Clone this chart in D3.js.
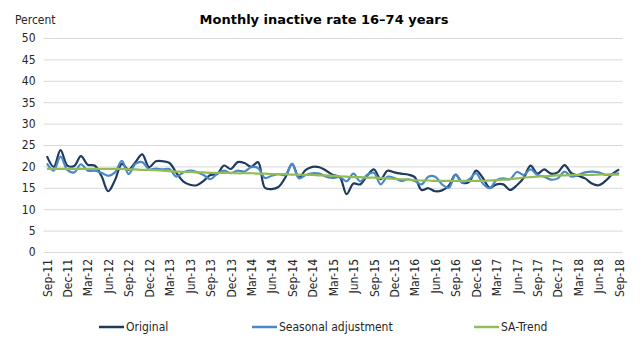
<!DOCTYPE html>
<html>
<head>
<meta charset="utf-8">
<script src="https://cdn.jsdelivr.net/npm/d3@7"></script>
<style>
  html, body { margin: 0; padding: 0; background: #fff; }
  svg text { font-family: "DejaVu Sans Condensed", "Liberation Sans Narrow", sans-serif; fill: #262626; }
</style>
</head>
<body>
<div id="container"></div>
<script>
// months Sep-11 .. Sep-18
const months = [
  'Sep-11','Oct-11','Nov-11','Dec-11',
  'Jan-12','Feb-12','Mar-12','Apr-12','May-12','Jun-12','Jul-12','Aug-12','Sep-12','Oct-12','Nov-12','Dec-12',
  'Jan-13','Feb-13','Mar-13','Apr-13','May-13','Jun-13','Jul-13','Aug-13','Sep-13','Oct-13','Nov-13','Dec-13',
  'Jan-14','Feb-14','Mar-14','Apr-14','May-14','Jun-14','Jul-14','Aug-14','Sep-14','Oct-14','Nov-14','Dec-14',
  'Jan-15','Feb-15','Mar-15','Apr-15','May-15','Jun-15','Jul-15','Aug-15','Sep-15','Oct-15','Nov-15','Dec-15',
  'Jan-16','Feb-16','Mar-16','Apr-16','May-16','Jun-16','Jul-16','Aug-16','Sep-16','Oct-16','Nov-16','Dec-16',
  'Jan-17','Feb-17','Mar-17','Apr-17','May-17','Jun-17','Jul-17','Aug-17','Sep-17','Oct-17','Nov-17','Dec-17',
  'Jan-18','Feb-18','Mar-18','Apr-18','May-18','Jun-18','Jul-18','Aug-18','Sep-18'
]

const original = [
  22.4, 19.9, 23.8, 20.2,
  20.1, 22.4, 20.4, 20.2, 17.8, 14.2, 16.8, 20.6, 19.2, 21.0, 22.8, 19.8,
  21.2, 21.2, 20.8, 18.5, 16.5, 15.7, 15.6, 16.6, 18.0, 18.2, 20.2, 19.4,
  21.0, 20.8, 19.9, 21.0, 15.0, 14.7, 15.2, 17.4, 20.6, 17.4, 19.2, 19.9,
  19.8, 19.0, 18.0, 17.5, 13.5, 16.0, 15.8, 17.8, 19.3, 17.0, 19.0, 18.6,
  18.3, 18.1, 17.5, 14.5, 14.9, 14.2, 14.4, 15.5, 18.1, 16.2, 16.4, 19.0,
  17.3, 15.0, 15.8, 15.8, 14.5, 15.6, 17.3, 20.2, 18.3, 19.3, 18.3, 18.6,
  20.3, 18.4, 17.8, 17.2, 16.0, 15.6, 16.6, 18.2, 19.3
]

const seasonal = [
  20.7, 19.0, 22.3, 19.2,
  18.6, 20.5, 19.0, 19.0, 18.5, 17.8, 18.6, 21.3, 18.2, 20.6, 21.0, 19.3,
  19.5, 19.3, 19.4, 17.6, 18.6, 19.0, 18.7, 18.0, 17.0, 18.3, 19.0, 18.4,
  19.0, 18.8, 19.8, 19.6, 17.3, 17.8, 18.2, 18.0, 20.6, 17.2, 18.0, 18.4,
  18.3, 17.6, 17.3, 17.5, 16.5, 18.3, 16.5, 18.0, 18.5, 15.8, 17.6, 17.3,
  16.6, 17.0, 16.6, 15.8, 17.6, 17.6, 15.8, 15.0, 18.0, 16.2, 17.0, 18.4,
  16.0, 14.9, 16.8, 17.2, 17.0, 18.7, 18.0, 19.3, 18.0, 17.6, 16.9, 17.2,
  18.8, 17.6, 18.0, 18.6, 18.8, 18.6, 18.0, 18.2, 18.4
]

const trend = [
  19.4, 19.4, 19.4, 19.4,
  19.4, 19.4, 19.4, 19.4, 19.4, 19.4, 19.4, 19.4, 19.3, 19.3, 19.2, 19.2,
  19.1, 19.0, 18.9, 18.8, 18.7, 18.7, 18.6, 18.6, 18.5, 18.5, 18.5, 18.5,
  18.4, 18.4, 18.4, 18.3, 18.3, 18.2, 18.2, 18.2, 18.1, 18.1, 18.0, 18.0,
  17.9, 17.9, 17.8, 17.7, 17.6, 17.5, 17.5, 17.4, 17.4, 17.3, 17.2, 17.1,
  17.0, 16.9, 16.8, 16.7, 16.7, 16.6, 16.6, 16.6, 16.6, 16.6, 16.6, 16.6,
  16.6, 16.7, 16.8, 16.9, 17.0, 17.2, 17.4, 17.5, 17.6, 17.7, 17.8, 17.9,
  17.9, 18.0, 18.0, 18.0, 18.0, 18.1, 18.1, 18.1, 18.1
]

const yTicks = [0, 5, 10, 15, 20, 25, 30, 35, 40, 45, 50]
const seriesNames = ['Original', 'Seasonal adjustment', 'SA-Trend']

const width = 642
const height = 340
const plot = { left: 43.5, right: 622.5, top: 38, bottom: 252 }
const colors = ['#1f3a5f', '#4a89c8', '#92bd52']

const svg = d3.select('#container')
  .append('svg')
  .attr('width', width)
  .attr('height', height)

const x = d3.scalePoint()
  .domain(months)
  .range([plot.left, plot.right])
  .padding(0.5)

const y = d3.scaleLinear()
  .domain([0, 50])
  .range([plot.bottom, plot.top])

// horizontal gridlines
svg.append('g')
  .attr('transform', `translate(${plot.left},0)`)
  .call(d3.axisLeft(y).tickValues(yTicks).tickSize(-(plot.right - plot.left)).tickFormat(''))
  .call(g => g.select('.domain').remove())
  .call(g => g.selectAll('line').attr('stroke', '#d9d9d9').attr('stroke-width', 1))

// y labels
svg.append('g')
  .attr('transform', `translate(${plot.left - 8},0)`)
  .call(d3.axisLeft(y).tickValues(yTicks).tickSize(0).tickPadding(0))
  .call(g => g.select('.domain').remove())
  .call(g => g.selectAll('text').attr('font-size', 12).style('font-family', null))

// x labels, every third month, rotated
svg.append('g')
  .attr('transform', `translate(0,${plot.bottom})`)
  .call(d3.axisBottom(x).tickValues(months.filter((d, i) => i % 3 === 0)).tickSize(0))
  .call(g => g.select('.domain').remove())
  .call(g => g.selectAll('text')
    .attr('font-size', 12)
    .style('font-family', null)
    .attr('transform', 'rotate(-90)')
    .attr('text-anchor', 'end')
    .attr('dy', '0.35em')
    .attr('x', -7)
    .attr('y', 0))

const line = d3.line()
  .x((d, i) => x(months[i]))
  .y(d => y(d))
  .curve(d3.curveCatmullRom.alpha(0.5))

const series = [original, seasonal, trend]
svg.append('g')
  .selectAll('path')
  .data(series)
  .enter()
  .append('path')
  .attr('d', d => line(d))
  .attr('fill', 'none')
  .attr('stroke', (d, i) => colors[i])
  .attr('stroke-width', 2.2)
  .attr('stroke-linejoin', 'round')

// title and unit
svg.append('text')
  .attr('x', 324)
  .attr('y', 24)
  .attr('text-anchor', 'middle')
  .attr('font-size', 13)
  .attr('font-weight', 'bold')
  .style('font-family', '"DejaVu Sans", sans-serif')
  .style('fill', '#000')
  .text('Monthly inactive rate 16\u201374 years')

svg.append('text')
  .attr('x', 15)
  .attr('y', 24)
  .attr('font-size', 12)
  .text('Percent')

// legend
const legendX = [99, 252, 474]
const legend = svg.append('g')
  .selectAll('g')
  .data(seriesNames)
  .enter()
  .append('g')
  .attr('transform', (d, i) => `translate(${legendX[i]},327)`)

legend.append('line')
  .attr('x1', 0)
  .attr('x2', 25)
  .attr('stroke', (d, i) => colors[i])
  .attr('stroke-width', 2.5)

legend.append('text')
  .attr('x', 27)
  .attr('dy', '0.35em')
  .attr('font-size', 12)
  .text(d => d)
</script>
</body>
</html>
